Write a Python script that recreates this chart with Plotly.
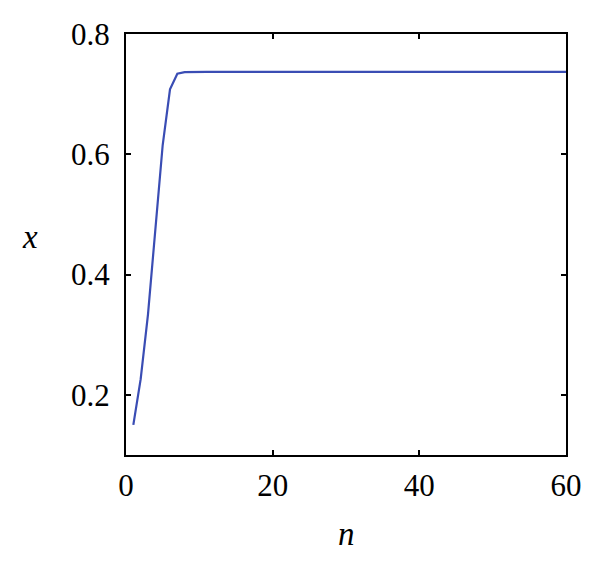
import plotly.graph_objects as go

n_values = list(range(1, 61))
x_values = [
    0.150, 0.226, 0.334, 0.470, 0.615, 0.708, 0.734, 0.7365, 0.737, 0.737,
    0.737, 0.737, 0.737, 0.737, 0.737, 0.737, 0.737, 0.737, 0.737, 0.737,
    0.737, 0.737, 0.737, 0.737, 0.737, 0.737, 0.737, 0.737, 0.737, 0.737,
    0.737, 0.737, 0.737, 0.737, 0.737, 0.737, 0.737, 0.737, 0.737, 0.737,
    0.737, 0.737, 0.737, 0.737, 0.737, 0.737, 0.737, 0.737, 0.737, 0.737,
    0.737, 0.737, 0.737, 0.737, 0.737, 0.737, 0.737, 0.737, 0.737, 0.737,
]
x_ticks = [0, 20, 40, 60]
y_ticks = [0.2, 0.4, 0.6, 0.8]

font_family = "Liberation Serif"

fig = go.Figure(
    go.Scatter(x=n_values, y=x_values, mode="lines",
               line=dict(color="#3a4db4", width=2.2), showlegend=False)
)

axis_common = dict(
    showline=True, linecolor="black", linewidth=2, mirror="ticks",
    ticks="inside", ticklen=5, tickwidth=2, tickcolor="black",
    showgrid=False, zeroline=False, automargin=False,
    tickfont=dict(family=font_family, size=31, color="black"),
)

fig.update_xaxes(range=[0, 60], tickvals=x_ticks, ticktext=[str(v) for v in x_ticks],
                 ticklabelstandoff=2, **axis_common)
fig.update_yaxes(range=[0.1, 0.8], tickvals=y_ticks, ticktext=[f"{v:.1f}" for v in y_ticks],
                 ticklabelstandoff=8, **axis_common)

fig.add_annotation(text="<i>n</i>", xref="paper", yref="paper", x=0.5, y=0,
                   xanchor="center", yanchor="middle", yshift=-79, showarrow=False,
                   font=dict(family=font_family, size=33, color="black"))
fig.add_annotation(text="<i>x</i>", xref="paper", yref="paper", x=0, y=0.518,
                   xanchor="center", yanchor="middle", xshift=-96, showarrow=False,
                   font=dict(family=font_family, size=33, color="black"))

fig.update_layout(
    width=592, height=555,
    margin=dict(l=118, r=34, t=26, b=108),
    paper_bgcolor="white", plot_bgcolor="white",
)

fig.write_html("out.html")
